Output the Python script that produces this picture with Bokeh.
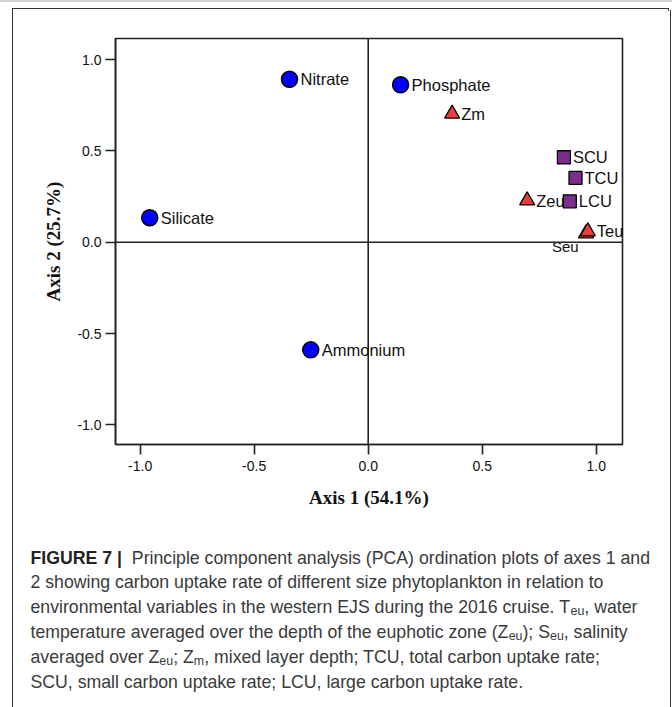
from bokeh.plotting import figure
from bokeh.models import Span, Range1d, FixedTicker, Div
from bokeh.layouts import column, row
from bokeh.embed import file_html
from bokeh.resources import INLINE
from bokeh.core.properties import value

# ---------------- data ----------------
nutrient_names = ["Nitrate", "Phosphate", "Silicate", "Ammonium"]
nutrient_x = [-0.345, 0.142, -0.958, -0.252]
nutrient_y = [0.892, 0.862, 0.134, -0.589]

physical_names = ["Zm", "Zeu", "Teu"]
physical_x = [0.368, 0.697, 0.963]
physical_y = [0.703, 0.228, 0.059]

hidden_names = ["Seu"]
hidden_x = [0.955]
hidden_y = [0.048]

uptake_names = ["SCU", "TCU", "LCU"]
uptake_x = [0.858, 0.909, 0.884]
uptake_y = [0.465, 0.352, 0.224]

tick_values = [-1.0, -0.5, 0.0, 0.5, 1.0]
tick_labels = ["-1.0", "-0.5", "0.0", "0.5", "1.0"]
x_title = "Axis 1 (54.1%)"
y_title = "Axis 2 (25.7%)"

caption_lines = [
    [("FIGURE 7 |", "b"), ("Principle component analysis (PCA) ordination plots of axes 1 and", "n")],
    [("2 showing carbon uptake rate of different size phytoplankton in relation to", "n")],
    [("environmental variables in the western EJS during the 2016 cruise. T", "n"), ("eu", "s"), (", water", "n")],
    [("temperature averaged over the depth of the euphotic zone (Z", "n"), ("eu", "s"), ("); S", "n"), ("eu", "s"), (", salinity", "n")],
    [("averaged over Z", "n"), ("eu", "s"), ("; Z", "n"), ("m", "s"), (", mixed layer depth; TCU, total carbon uptake rate;", "n")],
    [("SCU, small carbon uptake rate; LCU, large carbon uptake rate.", "n")],
]


def vline_div(w, h, left_px):
    return Div(width=w, height=h, styles={"margin": "0", "padding": "0"},
               text=f'<div style="position:absolute;left:{left_px}px;top:0;width:0;height:{h}px;'
                    'border-left:1.5px solid #333"></div>')


# ---------------- page frame pieces (plain boxes) ----------------
top = Div(width=672, height=10, styles={"margin": "0", "padding": "0"},
          text='<div style="position:absolute;left:0;top:0;width:672px;height:2px;background:#d0d0d0"></div>'
               '<div style="position:absolute;left:11.75px;top:7.75px;width:657.5px;height:8px;'
               'border-top:1.5px solid #333;border-left:1.5px solid #333;border-right:1.5px solid #333"></div>')

# ---------------- chart (canvas x 13..670, y 10..530) ----------------
p = figure(width=657, height=520, output_backend="svg", toolbar_location=None,
           x_range=Range1d(-1.108, 1.115), y_range=Range1d(-1.107, 1.115),
           min_border_left=102, min_border_right=48, min_border_top=28, min_border_bottom=86)
p.grid.visible = False
p.background_fill_color = "white"
p.border_fill_color = "white"
p.outline_line_color = "#222222"
p.outline_line_width = 1.6

overrides = {v: s for v, s in zip(tick_values, tick_labels)}
for ax in (p.xaxis[0], p.yaxis[0]):
    ax.ticker = FixedTicker(ticks=tick_values)
    ax.major_label_overrides = overrides
    ax.axis_line_color = "#222222"
    ax.axis_line_width = 1.6
    ax.major_tick_line_color = "#222222"
    ax.major_tick_line_width = 1.6
    ax.major_tick_out = 10
    ax.major_tick_in = 0
    ax.minor_tick_line_color = None
    ax.major_label_text_font = "Liberation Sans"
    ax.major_label_text_font_size = "14px"
    ax.major_label_text_color = "#111111"
    ax.axis_label_text_font = "Liberation Serif"
    ax.axis_label_text_font_style = "bold"
    ax.axis_label_text_font_size = "19px"
    ax.axis_label_text_color = "#111111"

p.xaxis.axis_label = x_title
p.yaxis.axis_label = y_title
p.xaxis.major_label_standoff = 6
p.yaxis.major_label_standoff = 4
p.xaxis.axis_label_standoff = 13
p.yaxis.axis_label_standoff = 10

p.add_layout(Span(location=0, dimension="height", line_color="#222222", line_width=1.6))
p.add_layout(Span(location=0, dimension="width", line_color="#222222", line_width=1.6))

lab_font = value("Liberation Sans")
p.scatter(hidden_x, hidden_y, marker="triangle", size=15, fill_color="#F03C3C",
          line_color="black", line_width=1.3)
p.text(hidden_x, hidden_y, text=hidden_names, x_offset=-34, y_offset=13,
       text_baseline="middle", text_align="left", text_font=lab_font,
       text_font_size="15px", text_color="#111111")

p.scatter(nutrient_x, nutrient_y, marker="circle", size=16, fill_color="#0000FF",
          line_color="black", line_width=1.5)
p.text(nutrient_x, nutrient_y, text=nutrient_names, x_offset=11, text_baseline="middle",
       text_align="left", text_font=lab_font, text_font_size="16.5px", text_color="#111111")

p.scatter(physical_x, physical_y, marker="triangle", size=15, fill_color="#F03C3C",
          line_color="black", line_width=1.3)
p.text(physical_x, physical_y, text=physical_names, x_offset=9, text_baseline="middle",
       text_align="left", text_font=lab_font, text_font_size="16.5px", text_color="#111111")

p.scatter(uptake_x, uptake_y, marker="square", size=13, fill_color="#7B2D8B",
          line_color="black", line_width=1.3)
p.text(uptake_x, uptake_y, text=uptake_names, x_offset=9, text_baseline="middle",
       text_align="left", text_font=lab_font, text_font_size="16.5px", text_color="#111111")

# ---------------- caption (canvas x 13..670, y 530..707) ----------------
cap = figure(width=657, height=177, output_backend="svg", toolbar_location=None,
             x_range=Range1d(13, 670), y_range=Range1d(707, 530),
             min_border=0, min_border_left=0, min_border_right=0,
             min_border_top=0, min_border_bottom=0)
cap.axis.visible = False
cap.grid.visible = False
cap.outline_line_color = None

# Arial / Liberation Sans advance widths (1/1000 em)
W = {' ': 278, '!': 278, '(': 333, ')': 333, ',': 278, '-': 333, '.': 278, ';': 278, ':': 278,
     '|': 260, '%': 889}
for c in "0123456789":
    W[c] = 556
W.update(dict(A=667, B=667, C=722, D=722, E=667, F=611, G=778, H=722, I=278, J=500, K=667,
              L=556, M=833, N=722, O=778, P=667, Q=778, R=722, S=667, T=611, U=722, V=667,
              W=944, X=667, Y=667, Z=611))
W.update(dict(a=556, b=556, c=500, d=556, e=556, f=278, g=556, h=556, i=222, j=222, k=500,
              l=222, m=833, n=556, o=556, p=556, q=556, r=333, s=500, t=278, u=556, v=500,
              w=722, x=500, y=500, z=500))
WB = dict(W)
WB['|'] = 280


def width(s, size, bold=False):
    tbl = WB if bold else W
    return sum(tbl.get(c, 556) for c in s) * size / 1000.0


cap_size = 17.7
sub_size = 12.4
cap_x0 = 30
cap_y0 = 557
cap_dy = 24.8
groups = {"b": dict(x=[], y=[], t=[]), "n": dict(x=[], y=[], t=[]), "s": dict(x=[], y=[], t=[])}
for i, segs in enumerate(caption_lines):
    x = cap_x0
    y = cap_y0 + i * cap_dy
    for j, (txt, st) in enumerate(segs):
        size = sub_size if st == "s" else cap_size
        bold = st == "b"
        dy = 4 if st == "s" else 0
        if j > 0 and segs[j - 1][1] == "b":
            x += 2 * width(" ", cap_size)
        lead = len(txt) - len(txt.lstrip(" "))
        x += width(" " * lead, size, bold)
        t = txt.strip(" ")
        groups[st]["x"].append(x)
        groups[st]["y"].append(y + dy)
        groups[st]["t"].append(t)
        x += width(t, size, bold)

cap.text(groups["b"]["x"], groups["b"]["y"], text=groups["b"]["t"], text_font=value("Liberation Sans"),
         text_font_size=f"{cap_size}px", text_font_style="bold", text_color="#222222",
         text_baseline="middle", text_align="left")
cap.text(groups["n"]["x"], groups["n"]["y"], text=groups["n"]["t"], text_font=value("Liberation Sans"),
         text_font_size=f"{cap_size}px", text_color="#3a3a3a",
         text_baseline="middle", text_align="left")
cap.text(groups["s"]["x"], groups["s"]["y"], text=groups["s"]["t"], text_font=value("Liberation Sans"),
         text_font_size=f"{sub_size}px", text_color="#3a3a3a",
         text_baseline="middle", text_align="left")

layout = column(
    top,
    row(vline_div(13, 520, 11.75), p, vline_div(2, 520, -0.25), spacing=0),
    row(vline_div(13, 177, 11.75), cap, vline_div(2, 177, -0.25), spacing=0),
    spacing=0)
open("out.html", "w").write(file_html(layout, INLINE))
